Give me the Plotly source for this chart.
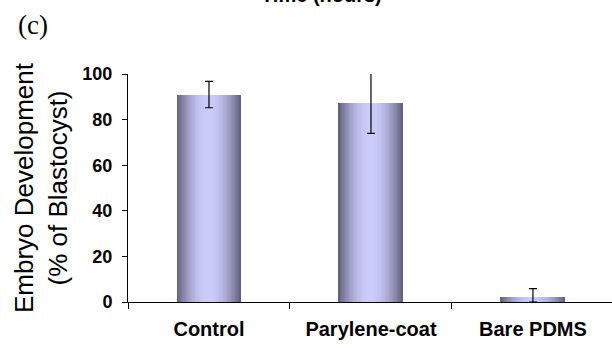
import math
import plotly.graph_objects as go

# Embryo development outcome per culture surface
categories = ["Control", "Parylene-coat", "Bare PDMS"]
blastocyst_pct = [91.0, 87.5, 2.3]
error_pct = [5.8, 13.5, 3.6]
y_ticks = [0, 20, 40, 60, 80, 100]

# Bar shading: dark edges, light centre (horizontal gradient)
EDGE = (94, 94, 122)
MID = (204, 204, 252)
N_STRIPS = 48
BAR_WIDTH = 0.395


def shade(t):
    # t in [0, 1] across the bar; 0/1 -> edge colour, 0.5 -> centre colour
    k = math.sin(math.pi * t) ** 0.9
    r, g, b = (round(e + (m - e) * k) for e, m in zip(EDGE, MID))
    return f"rgb({r},{g},{b})"


fig = go.Figure()

strip = BAR_WIDTH / N_STRIPS
for i in range(N_STRIPS):
    fig.add_trace(go.Bar(
        x=categories,
        y=blastocyst_pct,
        width=strip * 1.15,
        offset=-BAR_WIDTH / 2 + i * strip,
        marker=dict(color=shade((i + 0.5) / N_STRIPS), line=dict(width=0)),
        showlegend=False,
        hoverinfo="skip",
    ))

# Error bars (lower arm stops at the axis)
fig.add_trace(go.Scatter(
    x=categories,
    y=blastocyst_pct,
    mode="markers",
    marker=dict(size=1, opacity=0),
    error_y=dict(
        type="data",
        array=error_pct,
        arrayminus=[min(e, v) for e, v in zip(error_pct, blastocyst_pct)],
        color="black",
        thickness=1.2,
        width=4,
    ),
    cliponaxis=False,
    showlegend=False,
    hoverinfo="skip",
))

axis_font = dict(family="Liberation Sans, Arial, sans-serif", color="black")

fig.update_layout(
    width=612,
    height=348,
    margin=dict(l=128, r=0, t=74, b=46),
    paper_bgcolor="white",
    plot_bgcolor="white",
    barmode="overlay",
    bargap=0,
    xaxis=dict(
        type="category",
        range=[-0.5, 2.488],
        showline=True,
        linecolor="black",
        linewidth=1,
        ticks="outside",
        tickson="boundaries",
        ticklen=6,
        tickcolor="black",
        tickwidth=1,
        showgrid=False,
        zeroline=False,
        tickfont=dict(size=20, weight="bold", **axis_font),
        ticklabelstandoff=9,
    ),
    yaxis=dict(
        range=[0, 100],
        tickvals=y_ticks,
        showline=True,
        linecolor="black",
        linewidth=1,
        ticks="outside",
        ticklen=5,
        tickcolor="black",
        showgrid=False,
        zeroline=False,
        tickfont=dict(size=18, weight="bold", **axis_font),
        ticklabelstandoff=6,
    ),
    annotations=[
        dict(
            text="Embryo Development<br>(% of Blastocyst)",
            xref="paper", yref="paper", x=0, y=0.5,
            xanchor="center", yanchor="middle",
            xshift=-87, textangle=-90, showarrow=False,
            font=dict(size=26, **axis_font),
        ),
        dict(
            text="(c)",
            xref="paper", yref="paper", x=0, y=1,
            xanchor="center", yanchor="middle",
            xshift=-95, yshift=49, showarrow=False,
            font=dict(size=27, family="Liberation Serif, Times New Roman, serif", color="black"),
        ),
        dict(
            text="Time (hours)",
            xref="paper", yref="paper", x=0.4, y=1,
            xanchor="center", yanchor="bottom",
            yshift=66, showarrow=False,
            font=dict(size=20, weight="bold", **axis_font),
        ),
    ],
)

fig.write_html("out.html")
